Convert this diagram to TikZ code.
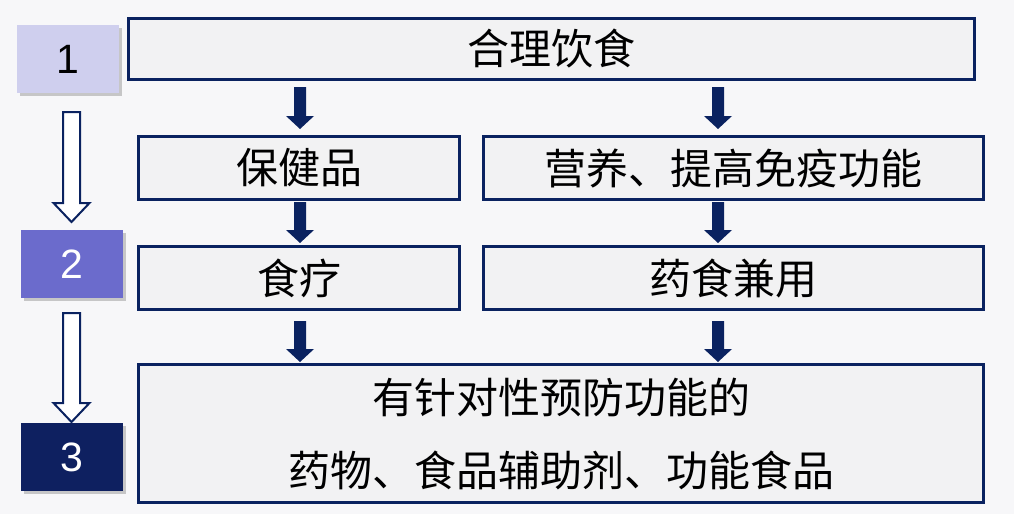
\documentclass[tikz,border=0pt]{standalone}
\usepackage{fontspec}
\setmainfont{Liberation Sans}
\newfontfamily\cjk{Noto Sans CJK SC}
\usetikzlibrary{shadows}
\definecolor{bgc}{RGB}{247,247,249}
\definecolor{navy}{RGB}{10,34,96}
\definecolor{boxfill}{RGB}{242,242,243}
\definecolor{numA}{RGB}{207,207,238}
\definecolor{numB}{RGB}{107,107,204}
\definecolor{numC}{RGB}{14,32,96}
\tikzset{
  textbox/.style={draw=navy, line width=3pt, fill=boxfill, inner sep=0pt, anchor=north west,
    font=\cjk\fontsize{42}{50}\selectfont},
  numbox/.style={fill=#1, inner sep=0pt, anchor=north west, minimum width=102pt, minimum height=68pt,
    font=\fontsize{41}{48}\selectfont,
    drop shadow={shadow xshift=3pt, shadow yshift=-3pt, fill=black!45, opacity=0.45}},
  solidarr/.style={fill=navy, draw=none},
  hollowarr/.style={fill=white, draw=navy, line width=2pt, line join=miter},
}
\newcommand\solidArrow[3]{% x, ytop, ytip
  \path[solidarr] (#1-6,#2) -- (#1+6,#2) -- (#1+6,#3-13) -- (#1+14,#3-13) -- (#1,#3) -- (#1-14,#3-13) -- (#1-6,#3-13) -- cycle;}
\newcommand\hollowArrow[3]{%
  \path[hollowarr] (#1-8.5,#2) -- (#1+8.5,#2) -- (#1+8.5,#3-19) -- (#1+18,#3-19) -- (#1,#3) -- (#1-18,#3-19) -- (#1-8.5,#3-19) -- cycle;}
\begin{document}
\begin{tikzpicture}[x=1pt,y=-1pt]
\fill[bgc] (0,0) rectangle (1014,514);
\useasboundingbox (0,0) rectangle (1014,514);

% number boxes
\node[numbox=numA, text=black] (n1) at (17,25) {1};
\node[numbox=numB, text=white] (n2) at (21,230) {2};
\node[numbox=numC, text=white] (n3) at (21,423) {3};

% text boxes
\node[textbox, minimum width=846pt, minimum height=61pt] (top) at (127,17) {合理饮食};
\node[textbox, minimum width=321pt, minimum height=63pt] (bj) at (137,135) {保健品};
\node[textbox, minimum width=500pt, minimum height=63pt] (yy) at (482,135) {营养、提高免疫功能};
\node[textbox, minimum width=321pt, minimum height=63pt] (sl) at (137,245) {食疗};
\node[textbox, minimum width=500pt, minimum height=63pt] (ys) at (482,245) {药食兼用};
\node[textbox, minimum width=845pt, minimum height=138pt, align=center,
  font=\cjk\fontsize{42}{73}\selectfont] (bot) at (137,363) {有针对性预防功能的\\药物、食品辅助剂、功能食品};

% solid arrows
\solidArrow{300}{87}{129}
\solidArrow{718}{87}{129}
\solidArrow{300}{202}{243}
\solidArrow{718}{202}{243}
\solidArrow{300}{321}{362}
\solidArrow{718}{321}{362}

% hollow arrows
\hollowArrow{71.5}{112}{222}
\hollowArrow{71.5}{313}{422}
\end{tikzpicture}
\end{document}
